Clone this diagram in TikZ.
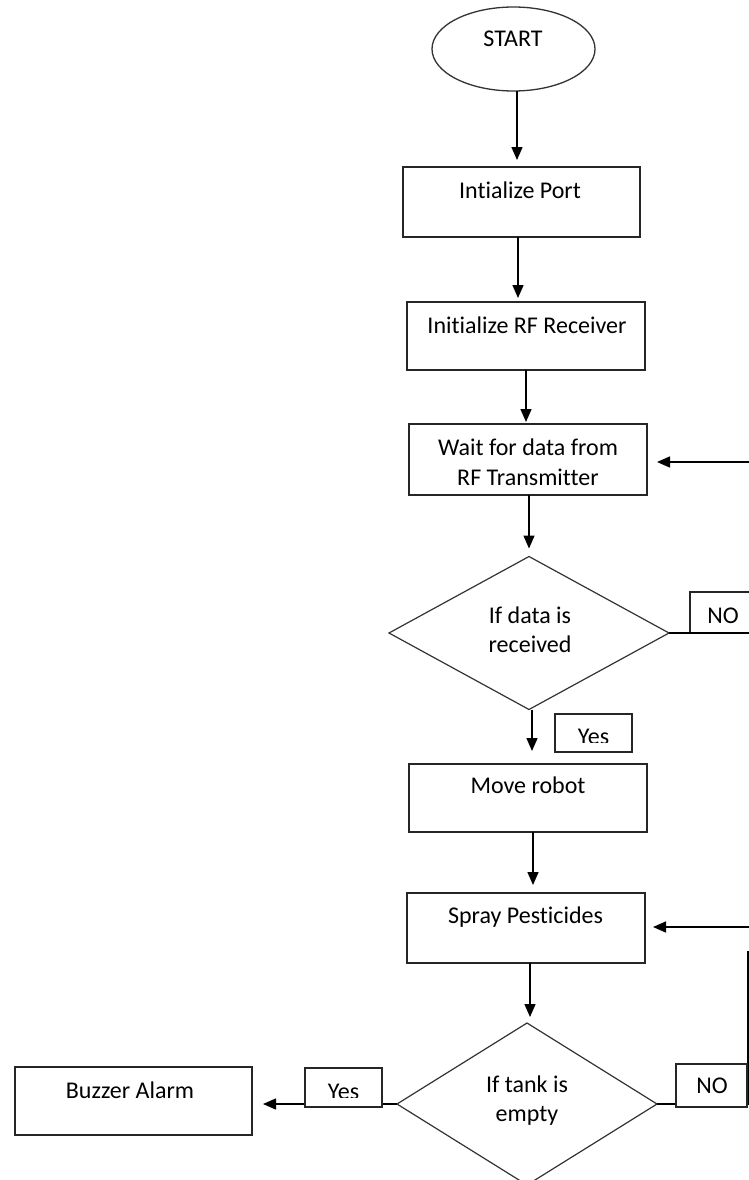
\documentclass[tikz,border=0pt]{standalone}
\usepackage{fontspec}
\setmainfont[Ligatures=NoCommon]{Carlito}
\usetikzlibrary{shapes.geometric,arrows.meta}
\begin{document}
\begin{tikzpicture}[x=1pt,y=-1pt,
  boxst/.style={draw=black!85,line width=1.5pt,rectangle,inner sep=0pt,outer sep=0pt},
  ovalst/.style={draw=black!80,line width=1.3pt,ellipse,inner sep=0pt,outer sep=0pt},
  decst/.style={draw=black!80,line width=1.2pt,diamond,inner sep=0pt,outer sep=0pt},
  txt/.style={anchor=base,inner sep=0pt,font=\fontsize{24}{29}\selectfont,text=black},
  arr/.style={draw=black,line width=1.5pt,-{Triangle[length=13pt,width=11pt]}},
  ln/.style={draw=black!85,line width=1.5pt}]
\clip (0,0) rectangle (749,1180);
\fill[white] (0,0) rectangle (749,1180);

% nodes
\node[ovalst,minimum width=163pt,minimum height=84pt] (start) at (513.5,49) {};
\node[txt] (startt) at (513,47) {START};

\node[boxst,minimum width=237pt,minimum height=70pt] (port) at (521.5,202) {};
\node[txt] (portt) at (520,198) {Intialize Port};

\node[boxst,minimum width=238pt,minimum height=68pt] (rf) at (526,336) {};
\node[txt] (rft) at (527,333) {Initialize RF Receiver};

\node[boxst,minimum width=238pt,minimum height=71pt] (wait) at (528,459.5) {};
\node[txt] (waitt1) at (528,455) {Wait for data from};
\node[txt] (waitt2) at (528,485) {RF Transmitter};

\node[decst,minimum width=280pt,minimum height=153pt] (d1) at (529,633) {};
\node[txt] (d1t1) at (530,623) {If data is};
\node[txt] (d1t2) at (530,652) {received};

\node[boxst,minimum width=80pt,minimum height=41pt] (no1) at (730,612.5) {};
\node[txt] (no1t) at (723,623) {NO};

\node[boxst,minimum width=77pt,minimum height=38pt] (yes1) at (593.5,733) {};
\begin{scope}
  \clip (555,714) rectangle (632,742.5);
  \node[txt] (yes1t) at (593.5,744.5) {Yes};
\end{scope}

\node[boxst,minimum width=238pt,minimum height=68pt] (move) at (528,798) {};
\node[txt] (movet) at (528,793) {Move robot};

\node[boxst,minimum width=238pt,minimum height=70pt] (spray) at (526,928) {};
\node[txt] (sprayt) at (525.5,923) {Spray Pesticides};

\node[decst,minimum width=260pt,minimum height=162pt] (d2) at (527,1104) {};
\node[txt] (d2t1) at (527,1092) {If tank is};
\node[txt] (d2t2) at (527,1121) {empty};

\node[boxst,minimum width=237pt,minimum height=68pt] (buzzer) at (133.5,1101) {};
\node[txt] (buzzert) at (130,1098) {Buzzer Alarm};

% connectors
\draw[arr,shorten >=7pt] ([xshift=3.5pt]start.south) -- ([xshift=3.5pt]start.south |- port.north);
\draw[arr,shorten >=4pt] ([xshift=-3.5pt]port.south) -- ([xshift=-3.5pt]port.south |- rf.north);
\draw[arr,shorten >=2pt] (rf.south) -- (rf.south |- wait.north);
\draw[arr,shorten >=8pt] ([xshift=1pt]wait.south) -- ([xshift=1pt]wait.south |- d1.north);
\draw[arr,shorten >=13pt] ([xshift=3pt]d1.south) -- ([xshift=3pt]d1.south |- move.north);
\draw[arr,shorten >=8pt] ([xshift=5pt]move.south) -- ([xshift=5pt]move.south |- spray.north);
\draw[arr,shorten >=6pt] ([xshift=4pt]spray.south) -- ([xshift=4pt]spray.south |- d2.north);
\draw[arr,shorten >=11pt] (d2.west) -- (d2.west -| buzzer.east);

\coordinate (fb1) at (770,462);
\draw[arr,shorten >=10pt] (d1.east) -- (d1.east -| fb1) -- (fb1) -- (fb1 -| wait.east);

\coordinate (fb2a) at (748,952);
\coordinate (fb2b) at (765,927);
\draw[arr,shorten >=8pt] (d2.east) -- (d2.east -| fb2a) -- (fb2a) -- (fb2a -| fb2b) -- (fb2b) -- (fb2b -| spray.east);

% label boxes on top of lines
\node[boxst,minimum width=71pt,minimum height=43pt,fill=white] (no2) at (711.5,1085.5) {};
\node[txt] (no2t) at (712,1093) {NO};
\node[boxst,minimum width=77pt,minimum height=39pt,fill=white] (yes2) at (343.5,1087.5) {};
\begin{scope}
  \clip (305,1068) rectangle (382,1097.5);
  \node[txt] (yes2t) at (343.5,1099.5) {Yes};
\end{scope}
\end{tikzpicture}
\end{document}
